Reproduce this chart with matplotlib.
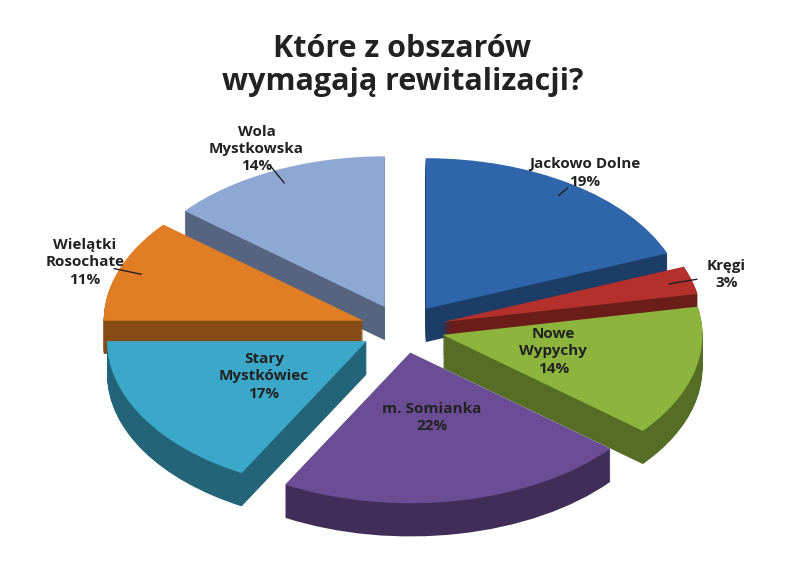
import matplotlib
matplotlib.use("Agg")
import matplotlib.pyplot as plt
import numpy as np
import matplotlib.colors as mc

labels = ["Jackowo Dolne", "Kręgi", "Nowe\nWypychy", "m. Somianka", "Stary\nMystkówiec", "Wielątki\nRosochate", "Wola\nMystkowska"]
values = [19, 3, 14, 22, 17, 11, 14]
colors = ["#2f65aa", "#b3302c", "#8db53d", "#6b4d95", "#3ba7c9", "#e17d25", "#8ea8d3"]
label_r = [1.25, 1.3, 0.6, 0.6, 0.62, 1.3, 1.32]

plt.rcParams['font.family'] = ['Open Sans', 'DejaVu Sans']
fig = plt.figure(figsize=(8.05, 5.7), dpi=100)
fig.patch.set_facecolor("white")
ax = fig.add_axes([0, 0, 1, 0.78])
ax.axis('off')
explode = [0.16] * len(values)

def dark(c, f=0.6):
    r, g, b = mc.to_rgb(c)
    return (r * f, g * f, b * f)

depth = 0.22
steps = 40
for k in range(steps, 0, -1):
    ax.pie(values, explode=explode, colors=[dark(c) for c in colors], startangle=90,
           counterclock=False, center=(0, -depth * k / steps), radius=1,
           wedgeprops=dict(linewidth=0))
wedges, _ = ax.pie(values, explode=explode, colors=colors, startangle=90,
                   counterclock=False, radius=1, wedgeprops=dict(linewidth=0))
ax.set_aspect('auto')
ax.set_xlim(-1.55, 1.55)
ax.set_ylim(-1.6, 1.35)

for w, lab, r, v in zip(wedges, labels, label_r, values):
    ang = np.deg2rad((w.theta1 + w.theta2) / 2)
    x, y = r * np.cos(ang), r * np.sin(ang)
    ax.text(x, y, f"{lab}\n{v}%", ha='center', va='center', fontsize=11,
            fontweight='bold', color='#222222', linespacing=1.3)
    if r > 1:
        ax.plot([1.07 * np.cos(ang), (r - 0.12) * np.cos(ang)],
                [1.07 * np.sin(ang), (r - 0.12) * np.sin(ang)], color='#222222', lw=1)

fig.text(0.5, 0.885, "Które z obszarów\nwymagają rewitalizacji?", ha='center', va='center',
         fontsize=22, fontweight='bold', color='#222222', linespacing=1.15)
fig.savefig("out.png", dpi=100)
